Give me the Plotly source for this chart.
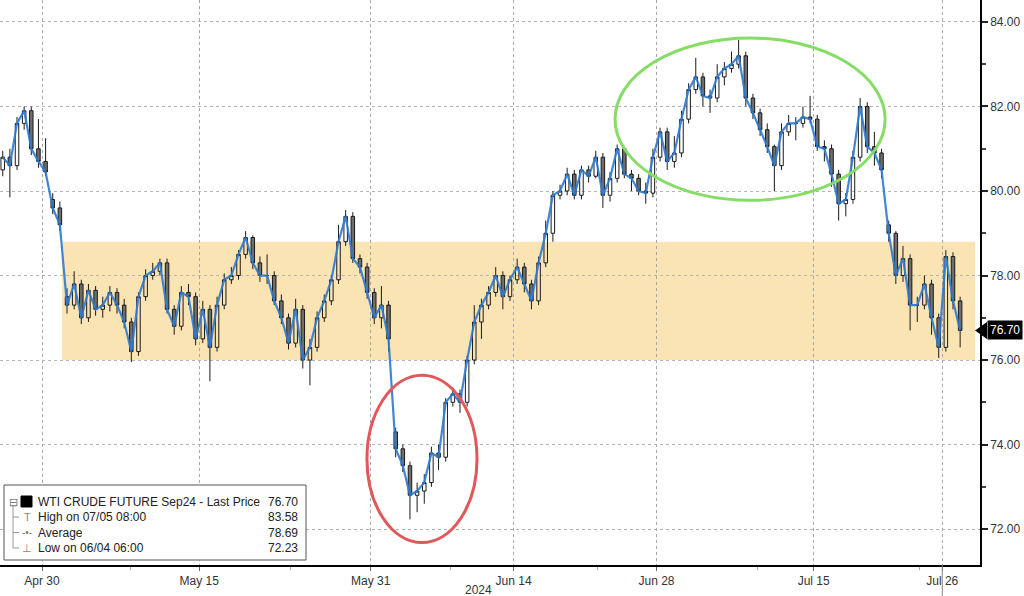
import pandas as pd
import plotly.graph_objects as go

# ---------------- data (half-day bars, WTI Sep24) ----------------
start_date = "2024-04-25"
end_date = "2024-07-29"

bar_open = [80.5, 80.8, 80.6, 81.6, 81.9, 81.0, 80.7, 79.8, 79.6, 77.5,
            77.3, 77.8, 77.0, 77.65, 77.2, 77.3, 77.6, 77.3, 76.9, 76.2,
            77.5, 78.0, 78.1, 78.3, 77.2, 76.8, 77.6, 77.5, 76.5, 77.2,
            76.3, 77.3, 77.9, 78.0, 78.5, 78.9, 78.3, 78.0, 78.0, 77.4,
            77.0, 76.4, 77.2, 76.0, 76.3, 77.0, 77.4, 77.9, 78.8, 79.4,
            78.4, 78.2, 77.6, 77.0, 77.3, 74.3, 73.9, 73.5, 72.8, 72.9,
            73.1, 73.8, 73.7, 75.0, 75.2, 75.0, 76.0, 76.9, 77.3, 77.6,
            78.0, 77.5, 77.9, 78.2, 77.8, 77.4, 78.3, 79.0, 79.9, 80.0,
            80.4, 79.9, 80.5, 80.35, 80.8, 79.9, 80.3, 81.0, 80.4, 80.3,
            80.0, 79.95, 80.8, 81.4, 80.7, 80.9, 81.7, 82.4, 82.7, 82.25,
            82.2, 82.7, 82.9, 83.0, 83.2, 82.2, 81.85, 81.45, 81.05, 80.6,
            81.4, 81.6, 81.6, 81.75, 81.7, 81.05, 81.0, 80.4, 79.7, 79.8,
            80.8, 82.0, 81.05, 80.9, 79.2, 79.0, 78.0, 78.4, 77.3, 77.3,
            77.8, 77.0, 76.3, 78.45, 77.4]

bar_high = [80.95, 81.0, 81.75, 82.0, 82.0, 81.7, 81.25, 79.95, 79.75, 77.7,
            78.1, 77.9, 77.8, 77.75, 77.5, 77.75, 77.7, 77.45, 77.0, 77.6,
            78.15, 78.3, 78.4, 78.4, 77.3, 77.75, 77.8, 77.6, 77.4, 77.3,
            77.5, 78.05, 78.2, 78.6, 79.05, 78.95, 78.45, 78.5, 78.1, 77.55,
            77.1, 77.45, 77.3, 76.5, 77.15, 77.55, 78.0, 79.2, 79.55, 79.5,
            78.5, 78.3, 77.7, 77.75, 77.4, 74.4, 74.0, 73.6, 73.1, 73.3,
            73.95, 74.0, 75.1, 75.35, 75.3, 76.1, 77.3, 77.45, 77.75, 78.2,
            78.1, 78.0, 78.4, 78.3, 77.9, 78.45, 79.3, 80.0, 80.15, 80.55,
            80.5, 80.6, 80.6, 80.95, 80.9, 80.45, 81.1, 81.05, 80.5, 80.4,
            80.2, 81.0, 81.5, 81.5, 81.3, 81.9, 82.55, 83.15, 82.8, 82.4,
            83.0, 83.05, 83.3, 83.58, 83.3, 82.3, 81.95, 81.6, 81.1, 81.6,
            81.8, 81.75, 82.0, 82.25, 81.8, 81.2, 81.1, 80.5, 79.95, 80.95,
            82.2, 82.1, 81.4, 81.0, 79.3, 79.05, 78.7, 78.5, 77.5, 78.0,
            77.9, 77.1, 78.6, 78.55, 77.5]

bar_low = [80.35, 79.85, 80.5, 81.45, 80.85, 80.55, 80.35, 79.45, 79.05, 77.1,
           77.2, 76.85, 76.9, 77.05, 77.0, 77.15, 77.1, 76.75, 75.95, 76.1,
           77.4, 77.9, 78.0, 77.1, 76.6, 76.7, 77.3, 76.35, 76.4, 75.5,
           76.2, 77.2, 77.8, 77.9, 78.4, 78.15, 77.85, 77.8, 77.3, 76.85,
           76.25, 76.3, 75.8, 75.4, 76.2, 76.9, 77.3, 77.8, 78.7, 78.3,
           78.05, 77.45, 76.85, 76.75, 76.2, 73.7, 73.35, 72.23, 72.4, 72.6,
           73.0, 73.4, 73.6, 74.9, 74.75, 74.9, 75.9, 76.5, 77.2, 77.5,
           77.2, 77.4, 77.8, 77.6, 77.2, 77.3, 78.2, 78.8, 79.8, 79.9,
           79.8, 79.8, 80.2, 80.3, 79.6, 79.75, 80.2, 80.3, 80.0, 79.9,
           79.7, 79.85, 80.7, 80.5, 80.55, 80.8, 81.6, 82.3, 82.0, 81.85,
           82.1, 82.5, 82.8, 82.9, 82.0, 81.7, 81.3, 80.9, 80.0, 80.5,
           81.3, 81.2, 81.5, 81.6, 80.95, 80.7, 80.1, 79.3, 79.4, 79.7,
           80.7, 80.9, 80.6, 80.3, 78.8, 77.8, 77.85, 76.7, 76.9, 77.2,
           76.6, 76.05, 76.2, 77.2, 76.3]

bar_close = [80.8, 80.6, 81.6, 81.9, 81.0, 80.7, 80.45, 79.6, 79.2, 77.3,
             77.8, 77.0, 77.65, 77.2, 77.3, 77.6, 77.3, 76.9, 76.2, 77.5,
             78.0, 78.1, 78.3, 77.2, 76.8, 77.6, 77.5, 76.5, 77.2, 76.3,
             77.3, 77.9, 78.0, 78.5, 78.9, 78.3, 78.0, 78.0, 77.4, 77.0,
             76.4, 77.2, 76.0, 76.3, 77.0, 77.4, 77.9, 78.8, 79.4, 78.4,
             78.2, 77.6, 77.0, 77.3, 76.5, 73.9, 73.5, 72.8, 72.9, 73.1,
             73.8, 73.7, 75.0, 75.2, 75.0, 76.0, 76.9, 77.3, 77.6, 78.0,
             77.5, 77.9, 78.2, 77.8, 77.4, 78.3, 79.0, 79.9, 80.0, 80.4,
             79.9, 80.5, 80.35, 80.8, 79.9, 80.3, 81.0, 80.4, 80.3, 80.0,
             79.95, 80.8, 81.4, 80.7, 80.9, 81.7, 82.4, 82.7, 82.25, 82.2,
             82.7, 82.9, 83.0, 83.2, 82.2, 81.85, 81.45, 81.05, 80.6, 81.4,
             81.6, 81.6, 81.75, 81.7, 81.05, 81.0, 80.4, 79.7, 79.8, 80.8,
             82.0, 81.05, 80.9, 80.5, 79.0, 78.0, 78.4, 77.3, 77.3, 77.8,
             77.0, 76.3, 78.45, 77.4, 76.7]

tick_dates = ["2024-04-30", "2024-05-15", "2024-05-31", "2024-06-14",
              "2024-06-28", "2024-07-15", "2024-07-26"]
tick_labels = ["Apr 30", "May 15", "May 31", "Jun 14", "Jun 28", "Jul 15", "Jul 26"]
y_ticks = [72, 74, 76, 78, 80, 82, 84]

legend_labels = ["WTI CRUDE FUTURE Sep24 - Last Price", "High on 07/05 08:00",
                 "Average", "Low on 06/04 06:00"]
legend_values = ["76.70", "83.58", "78.69", "72.23"]
last_price = 76.70

band_low, band_high = 76.0, 78.8
band_start, band_end = 4.4, 68.3          # trading-day index units
red_circle = dict(x0=25.74, x1=33.44, y0=71.68, y1=75.64)
green_circle = dict(x0=43.1, x1=62.0, y0=79.78, y1=83.62)
minor_x = [9.2, 20.4, 31.6, 41.9, 53.1, 64.4]

# ---------------- positions on a trading-day axis ----------------
bdays = list(pd.bdate_range(start_date, end_date))
day_pos = {d.strftime("%Y-%m-%d"): i for i, d in enumerate(bdays)}
bar_x = [i + off for i in range(len(bdays)) for off in (0.25, 0.75)][:len(bar_close)]
tick_x = [day_pos[d] for d in tick_dates]

fig = go.Figure()

fig.add_trace(go.Candlestick(
    x=bar_x, open=bar_open, high=bar_high, low=bar_low, close=bar_close,
    increasing=dict(line=dict(color="#1a1a1a", width=1), fillcolor="rgba(255,255,255,0)"),
    decreasing=dict(line=dict(color="#1a1a1a", width=1), fillcolor="#6e6e6e"),
    whiskerwidth=0, hoverinfo="skip", showlegend=False))

fig.add_trace(go.Scatter(
    x=bar_x, y=bar_close, mode="lines",
    line=dict(color="#2C7BD4", width=2.2), opacity=0.9,
    hoverinfo="skip", showlegend=False))

shapes = []
shapes.append(dict(type="rect", xref="x", yref="y", x0=band_start, x1=band_end,
                   y0=band_low, y1=band_high, fillcolor="#FBE4B4",
                   line=dict(width=0), layer="below"))
shapes.append(dict(type="circle", xref="x", yref="y", **red_circle,
                   line=dict(color="#E0585A", width=3)))
shapes.append(dict(type="circle", xref="x", yref="y", **green_circle,
                   line=dict(color="#86DD66", width=3)))

W, H = 980.0, 565.0  # plot area in px


def px(xp):
    return xp / W


def py(yp):
    return 1 - yp / H


shapes.append(dict(type="rect", xref="paper", yref="paper",
                   x0=px(4), x1=px(306), y0=py(560), y1=py(485),
                   fillcolor="white", line=dict(color="#555555", width=1)))
shapes.append(dict(type="rect", xref="paper", yref="paper",
                   x0=px(21), x1=px(32), y0=py(507), y1=py(496),
                   fillcolor="black", line=dict(color="black", width=1)))
shapes.append(dict(type="line", xref="paper", yref="paper",
                   x0=px(13), x1=px(13), y0=py(506), y1=py(548),
                   line=dict(color="#999999", width=1)))
for ry in [517, 532.5, 548]:
    shapes.append(dict(type="line", xref="paper", yref="paper",
                       x0=px(13), x1=px(19), y0=py(ry), y1=py(ry),
                       line=dict(color="#999999", width=1)))
shapes.append(dict(type="path", xref="paper", yref="y",
                   path=f"M {px(975)},{last_price} L {px(987)},{last_price + 0.2} "
                        f"L {px(987)},{last_price - 0.2} Z",
                   fillcolor="black", line=dict(width=0)))
shapes.append(dict(type="line", xref="x", yref="paper",
                   x0=tick_x[-1], x1=tick_x[-1], y0=0, y1=py(596),
                   line=dict(color="#888888", width=1)))

annotations = []
row_y = [501.5, 517, 532.5, 548]
for lab, val, ry in zip(legend_labels, legend_values, row_y):
    annotations.append(dict(xref="paper", yref="paper", x=px(36), y=py(ry),
                            text=lab, showarrow=False, xanchor="left", yanchor="middle",
                            font=dict(size=12, color="#222222")))
    annotations.append(dict(xref="paper", yref="paper", x=px(300), y=py(ry),
                            text=val, showarrow=False, xanchor="right", yanchor="middle",
                            font=dict(size=12, color="#222222")))
icon_specs = [("⊟", 13, 501.5, 11, "#777777"), ("T", 27, 517, 11, "#888888"),
              ("-•-", 27, 532.5, 10, "#777777"), ("⊥", 27, 548, 11, "#888888")]
for sym, ix, iy, isz, icol in icon_specs:
    annotations.append(dict(xref="paper", yref="paper", x=px(ix), y=py(iy), text=sym,
                            showarrow=False, xanchor="center", yanchor="middle",
                            font=dict(size=isz, color=icol)))
annotations.append(dict(xref="paper", yref="y", x=px(987), y=last_price,
                        text=f"{last_price:.2f}", showarrow=False, xanchor="left",
                        yanchor="middle", bgcolor="black", borderpad=2,
                        font=dict(size=12, color="white")))
annotations.append(dict(xref="paper", yref="paper", x=px(478), y=py(590),
                        text="2024", showarrow=False, yanchor="middle",
                        font=dict(size=12, color="#333333")))

fig.update_layout(
    width=1024, height=596,
    margin=dict(l=0, r=44, t=0, b=31),
    plot_bgcolor="white", paper_bgcolor="white",
    font=dict(family="Liberation Sans, Arial, sans-serif", size=12, color="#333333"),
    showlegend=False,
    shapes=shapes, annotations=annotations,
    xaxis=dict(
        range=[0.06, 68.64], tickmode="array", tickvals=tick_x, ticktext=tick_labels,
        showgrid=True, gridcolor="#a8a8a8", griddash="dot", gridwidth=1,
        showline=True, linecolor="black", linewidth=1.5,
        ticks="outside", ticklen=4, tickcolor="#666666",
        minor=dict(tickmode="array", tickvals=minor_x, ticks="outside",
                   ticklen=3, tickcolor="#aaaaaa", showgrid=False),
        zeroline=False, rangeslider=dict(visible=False), fixedrange=True),
    yaxis=dict(
        side="right", range=[71.15, 84.52], tickmode="array", tickvals=y_ticks,
        tickformat=".2f", showgrid=True, gridcolor="#b4b4b4", griddash="dot",
        gridwidth=1, showline=True, linecolor="black", linewidth=1.5,
        ticks="outside", ticklen=6, tickwidth=2, tickcolor="#222222",
        minor=dict(dtick=1, ticks="outside", ticklen=4, tickcolor="#444444",
                   showgrid=False),
        zeroline=False, fixedrange=True),
)

fig.write_html("out.html", config={"displayModeBar": False},
               post_script="document.body.style.margin='0px';document.body.style.overflow='hidden';")
